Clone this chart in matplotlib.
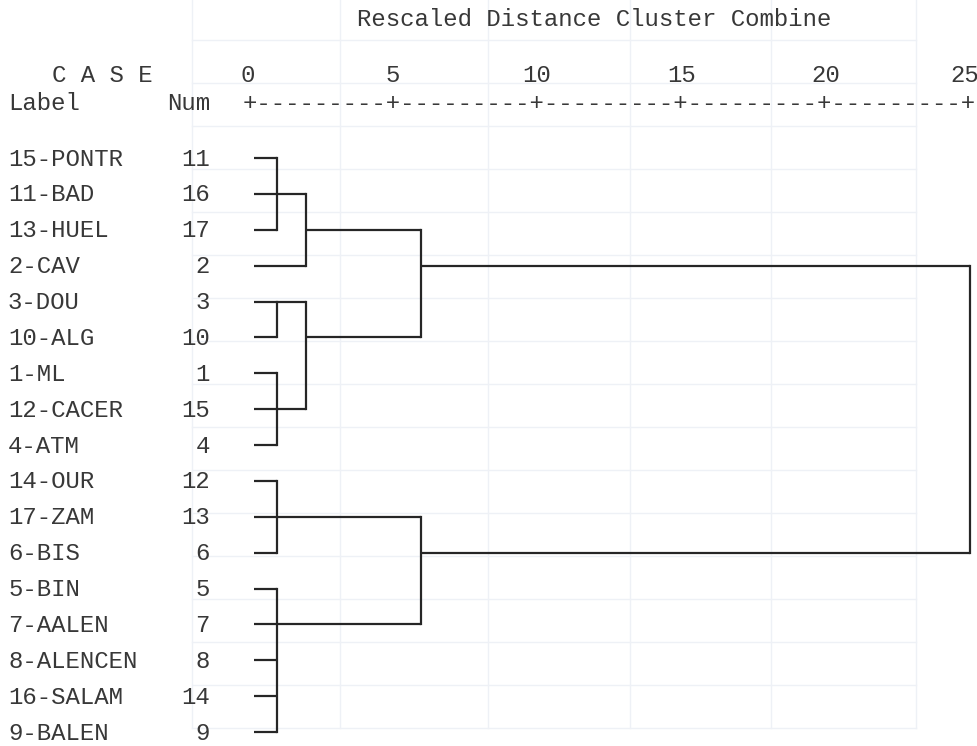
import matplotlib
matplotlib.use('Agg')
import matplotlib.pyplot as plt

# ---- data ----
labels = ["15-PONTR", "11-BAD", "13-HUEL", "2-CAV", "3-DOU", "10-ALG", "1-ML",
          "12-CACER", "4-ATM", "14-OUR", "17-ZAM", "6-BIS", "5-BIN", "7-AALEN",
          "8-ALENCEN", "16-SALAM", "9-BALEN"]
nums = [11, 16, 17, 2, 3, 10, 1, 15, 4, 12, 13, 6, 5, 7, 8, 14, 9]
tick_values = [0, 5, 10, 15, 20, 25]
title = "Rescaled Distance Cluster Combine"

# merges: children (('L', leaf row) or ('N', merge id)), rescaled distance, row of outgoing line
merge_children = [
    [('L', 0), ('L', 1), ('L', 2)],
    [('N', 0), ('L', 3)],
    [('L', 4), ('L', 5)],
    [('L', 6), ('L', 7), ('L', 8)],
    [('N', 2), ('N', 3)],
    [('N', 1), ('N', 4)],
    [('L', 9), ('L', 10), ('L', 11)],
    [('L', 12), ('L', 13), ('L', 14), ('L', 15), ('L', 16)],
    [('N', 6), ('N', 7)],
    [('N', 5), ('N', 8)],
]
merge_dist = [1, 2, 1, 1, 2, 6, 1, 1, 6, 25]
merge_row = [1, 2, 4, 7, 5, 3, 10, 13, 11, None]

# ---- layout ----
W, H = 978, 746
PX_PER_UNIT = 28.88
X0 = 248.0          # pixel of distance 0
ROW0 = 158.0        # pixel of first row
ROW_STEP = 35.875
LEAF_START = 0.2

fig = plt.figure(figsize=(W / 100, H / 100), dpi=100)
fig.patch.set_facecolor('white')
ax = fig.add_axes([0, 0, 1, 1])
ax.set_xlim(-X0 / PX_PER_UNIT, (W - X0) / PX_PER_UNIT)
ax.set_ylim((H - ROW0) / ROW_STEP, -ROW0 / ROW_STEP)
ax.axis('off')

def xpx(p):
    return (p - X0) / PX_PER_UNIT

def ypx(p):
    return (p - ROW0) / ROW_STEP

# faint show-through grid of the scanned page (background decoration)
GRID_C = '#eef1f6'
grid_cols = [192, 340, 488, 630, 771, 916]
grid_rows = [40 + 43.0 * k for k in range(17)]
for gx in grid_cols:
    ax.plot([xpx(gx), xpx(gx)], [ypx(0), ypx(grid_rows[-1])], color=GRID_C, lw=1.0, zorder=0)
for gy in grid_rows:
    ax.plot([xpx(grid_cols[0]), xpx(grid_cols[-1])], [ypx(gy), ypx(gy)], color=GRID_C, lw=1.0, zorder=0)

FONT = 'Liberation Mono'
FS = 17.3
TC = '#383838'
LC = '#262626'
LW = 1.6

txt = dict(family=FONT, fontsize=FS, color=TC, va='center', zorder=3)

# header
ax.text(xpx(357), ypx(20), title, ha='left', **txt)
ax.text(xpx(52), ypx(75), "C A S E", ha='left', **txt)
for v in tick_values:
    xv = v if v != tick_values[-1] else xpx(965)
    ax.text(xv, ypx(75), str(v), ha='center', **txt)
ax.text(xpx(8), ypx(104), "Label", ha='left', **txt)
ax.text(xpx(210), ypx(104), "Num", ha='right', **txt)
axis_str = "+" + "---------+" * (len(tick_values) - 1)
ax.text((tick_values[0] + tick_values[-1]) / 2, ypx(104), axis_str, ha='center', **txt)

# leaf labels
for i, (lab, n) in enumerate(zip(labels, nums)):
    ax.text(xpx(8), i + 0.03, lab, ha='left', **txt)
    ax.text(xpx(210), i + 0.03, str(n), ha='right', **txt)

# dendrogram
for k, children in enumerate(merge_children):
    d = merge_dist[k]
    rows = []
    for kind, idx in children:
        if kind == 'L':
            r, start = idx, LEAF_START
        else:
            r, start = merge_row[idx], merge_dist[idx]
        rows.append(r)
        ax.plot([start, d], [r, r], color=LC, lw=LW, solid_capstyle='butt', zorder=2)
    ax.plot([d, d], [min(rows), max(rows)], color=LC, lw=LW, solid_capstyle='projecting', zorder=2)

fig.savefig('out.png', dpi=100, facecolor='white')
